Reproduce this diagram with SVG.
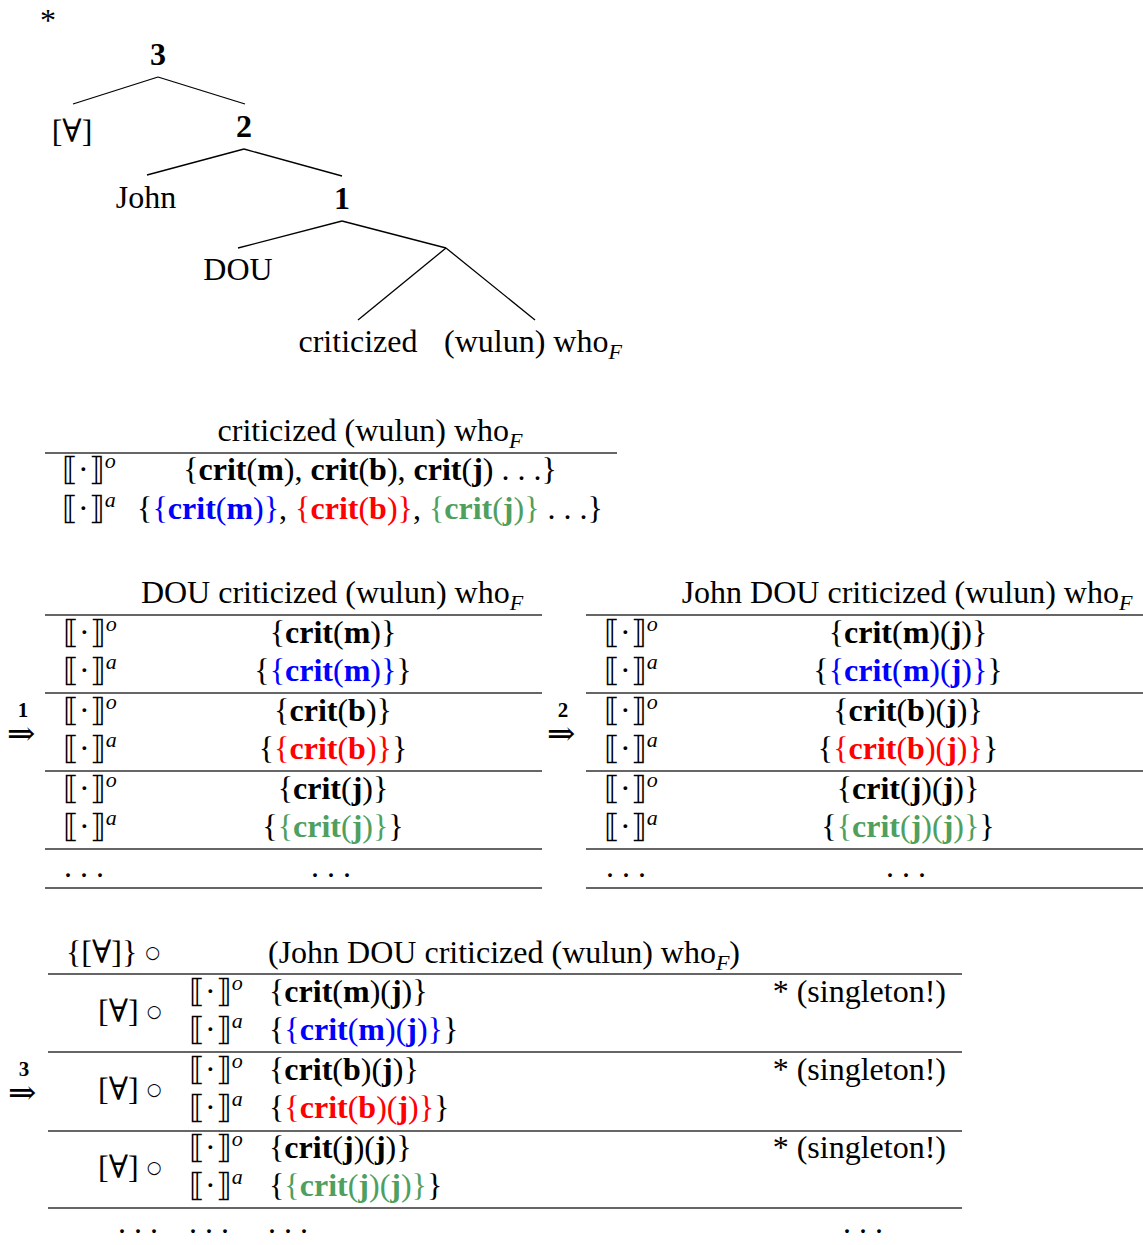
<svg xmlns="http://www.w3.org/2000/svg" width="1143" height="1245" viewBox="0 0 1143 1245">
<style>
text{font-family:"Liberation Serif","DejaVu Serif",serif;font-size:32px;fill:#000}
.b{font-weight:bold}
.sup{font-style:italic;font-size:22px}
.sub{font-style:italic;font-size:22px}
.B{fill:#0000ff}
.R{fill:#ff0000}
.G{fill:#4f9f5f}
.m{text-anchor:middle}
.e{text-anchor:end}
.ar{font-size:34px}
.al{font-weight:bold;font-size:21px;text-anchor:middle}
.ring{font-family:"DejaVu Sans",sans-serif;font-size:17px}
line{stroke:#000;stroke-width:1.3}
.rule{stroke:#333;stroke-width:1.5}
</style>

<!-- Tree -->
<g id="star"><text x="40" y="31" font-size="26">*</text></g>
<g id="connectors">
<line x1="158" y1="77" x2="73" y2="104"/>
<line x1="158" y1="77" x2="245" y2="104"/>
<line x1="244" y1="149" x2="147" y2="175"/>
<line x1="244" y1="149" x2="342" y2="176"/>
<line x1="342" y1="221" x2="238" y2="248"/>
<line x1="342" y1="221" x2="446" y2="248"/>
<line x1="446" y1="248" x2="358" y2="320"/>
<line x1="446" y1="248" x2="535" y2="320"/>
</g>
<g id="n3"><text class="m b" x="158" y="65">3</text></g>
<g id="nForall"><text class="m" x="72" y="142">[∀]</text></g>
<g id="n2"><text class="m b" x="244" y="137">2</text></g>
<g id="nJohn"><text class="m" x="146" y="208">John</text></g>
<g id="n1"><text class="m b" x="342" y="209">1</text></g>
<g id="nDOU"><text class="m" x="238" y="280">DOU</text></g>
<g id="nCrit"><text class="m" x="358" y="352">criticized</text></g>
<g id="nWho"><text x="444" y="352">(wulun) who<tspan class="sub" dy="7">F</tspan></text></g>

<!-- Table 1 -->
<g id="table1">
<text class="m" x="370" y="441">criticized (wulun) who<tspan class="sub" dy="7">F</tspan></text>
<line class="rule" x1="45" y1="453" x2="617" y2="453"/>
<text x="62" y="480">⟦·⟧<tspan class="sup" dy="-12">o</tspan></text>
<text class="m" x="370" y="480">{<tspan class="b">crit</tspan>(<tspan class="b">m</tspan>), <tspan class="b">crit</tspan>(<tspan class="b">b</tspan>), <tspan class="b">crit</tspan>(<tspan class="b">j</tspan>) . . .}</text>
<text x="62" y="519">⟦·⟧<tspan class="sup" dy="-12">a</tspan></text>
<text class="m" x="370" y="519">{<tspan class="B">{<tspan class="b">crit</tspan>(<tspan class="b">m</tspan>)}</tspan>, <tspan class="R">{<tspan class="b">crit</tspan>(<tspan class="b">b</tspan>)}</tspan>, <tspan class="G">{<tspan class="b">crit</tspan>(<tspan class="b">j</tspan>)}</tspan> . . .}</text>
</g>

<!-- Arrow 1 -->
<g id="arrow1">
<text class="al" x="23" y="717">1</text>
<text class="ar" x="7" y="745">⇒</text>
</g>

<!-- Table 2 -->
<g id="table2">
<text class="m" x="332" y="603">DOU criticized (wulun) who<tspan class="sub" dy="7">F</tspan></text>
<line class="rule" x1="45" y1="615" x2="542" y2="615"/>
<line class="rule" x1="45" y1="693" x2="542" y2="693"/>
<line class="rule" x1="45" y1="771" x2="542" y2="771"/>
<line class="rule" x1="45" y1="849" x2="542" y2="849"/>
<line class="rule" x1="45" y1="888" x2="542" y2="888"/>
<text x="63" y="643">⟦·⟧<tspan class="sup" dy="-12">o</tspan></text>
<text x="63" y="681">⟦·⟧<tspan class="sup" dy="-12">a</tspan></text>
<text x="63" y="721">⟦·⟧<tspan class="sup" dy="-12">o</tspan></text>
<text x="63" y="759">⟦·⟧<tspan class="sup" dy="-12">a</tspan></text>
<text x="63" y="799">⟦·⟧<tspan class="sup" dy="-12">o</tspan></text>
<text x="63" y="837">⟦·⟧<tspan class="sup" dy="-12">a</tspan></text>
<text class="m" x="333" y="643">{<tspan class="b">crit</tspan>(<tspan class="b">m</tspan>)}</text>
<text class="m" x="333" y="681">{<tspan class="B">{<tspan class="b">crit</tspan>(<tspan class="b">m</tspan>)}</tspan>}</text>
<text class="m" x="333" y="721">{<tspan class="b">crit</tspan>(<tspan class="b">b</tspan>)}</text>
<text class="m" x="333" y="759">{<tspan class="R">{<tspan class="b">crit</tspan>(<tspan class="b">b</tspan>)}</tspan>}</text>
<text class="m" x="333" y="799">{<tspan class="b">crit</tspan>(<tspan class="b">j</tspan>)}</text>
<text class="m" x="333" y="837">{<tspan class="G">{<tspan class="b">crit</tspan>(<tspan class="b">j</tspan>)}</tspan>}</text>
<text x="64" y="877">. . .</text>
<text class="m" x="331" y="877">. . .</text>
</g>

<!-- Arrow 2 -->
<g id="arrow2">
<text class="al" x="563" y="717">2</text>
<text class="ar" x="547" y="745">⇒</text>
</g>

<!-- Table 3 -->
<g id="table3">
<text class="m" x="907" y="603">John DOU criticized (wulun) who<tspan class="sub" dy="7">F</tspan></text>
<line class="rule" x1="586" y1="615" x2="1143" y2="615"/>
<line class="rule" x1="586" y1="693" x2="1143" y2="693"/>
<line class="rule" x1="586" y1="771" x2="1143" y2="771"/>
<line class="rule" x1="586" y1="849" x2="1143" y2="849"/>
<line class="rule" x1="586" y1="888" x2="1143" y2="888"/>
<text x="604" y="643">⟦·⟧<tspan class="sup" dy="-12">o</tspan></text>
<text x="604" y="681">⟦·⟧<tspan class="sup" dy="-12">a</tspan></text>
<text x="604" y="721">⟦·⟧<tspan class="sup" dy="-12">o</tspan></text>
<text x="604" y="759">⟦·⟧<tspan class="sup" dy="-12">a</tspan></text>
<text x="604" y="799">⟦·⟧<tspan class="sup" dy="-12">o</tspan></text>
<text x="604" y="837">⟦·⟧<tspan class="sup" dy="-12">a</tspan></text>
<text class="m" x="908" y="643">{<tspan class="b">crit</tspan>(<tspan class="b">m</tspan>)(<tspan class="b">j</tspan>)}</text>
<text class="m" x="908" y="681">{<tspan class="B">{<tspan class="b">crit</tspan>(<tspan class="b">m</tspan>)(<tspan class="b">j</tspan>)}</tspan>}</text>
<text class="m" x="908" y="721">{<tspan class="b">crit</tspan>(<tspan class="b">b</tspan>)(<tspan class="b">j</tspan>)}</text>
<text class="m" x="908" y="759">{<tspan class="R">{<tspan class="b">crit</tspan>(<tspan class="b">b</tspan>)(<tspan class="b">j</tspan>)}</tspan>}</text>
<text class="m" x="908" y="799">{<tspan class="b">crit</tspan>(<tspan class="b">j</tspan>)(<tspan class="b">j</tspan>)}</text>
<text class="m" x="908" y="837">{<tspan class="G">{<tspan class="b">crit</tspan>(<tspan class="b">j</tspan>)(<tspan class="b">j</tspan>)}</tspan>}</text>
<text x="606" y="877">. . .</text>
<text class="m" x="906" y="877">. . .</text>
</g>

<!-- Arrow 3 -->
<g id="arrow3">
<text class="al" x="24" y="1076">3</text>
<text class="ar" x="8" y="1104">⇒</text>
</g>

<!-- Table 4 -->
<g id="table4">
<text x="66" y="963">{[∀]} <tspan class="ring" dy="-5">○</tspan></text>
<text x="268" y="963">(John DOU criticized (wulun) who<tspan class="sub" dy="7">F</tspan><tspan dy="-7">)</tspan></text>
<line class="rule" x1="48" y1="974" x2="962" y2="974"/>
<line class="rule" x1="48" y1="1052" x2="962" y2="1052"/>
<line class="rule" x1="48" y1="1131" x2="962" y2="1131"/>
<line class="rule" x1="48" y1="1208" x2="962" y2="1208"/>
<text x="98" y="1022">[∀] <tspan class="ring" dy="-5">○</tspan></text>
<text x="98" y="1100">[∀] <tspan class="ring" dy="-5">○</tspan></text>
<text x="98" y="1178">[∀] <tspan class="ring" dy="-5">○</tspan></text>
<text x="189" y="1002">⟦·⟧<tspan class="sup" dy="-12">o</tspan></text>
<text x="189" y="1040">⟦·⟧<tspan class="sup" dy="-12">a</tspan></text>
<text x="189" y="1080">⟦·⟧<tspan class="sup" dy="-12">o</tspan></text>
<text x="189" y="1118">⟦·⟧<tspan class="sup" dy="-12">a</tspan></text>
<text x="189" y="1158">⟦·⟧<tspan class="sup" dy="-12">o</tspan></text>
<text x="189" y="1196">⟦·⟧<tspan class="sup" dy="-12">a</tspan></text>
<text x="269" y="1002">{<tspan class="b">crit</tspan>(<tspan class="b">m</tspan>)(<tspan class="b">j</tspan>)}</text>
<text x="269" y="1040">{<tspan class="B">{<tspan class="b">crit</tspan>(<tspan class="b">m</tspan>)(<tspan class="b">j</tspan>)}</tspan>}</text>
<text x="269" y="1080">{<tspan class="b">crit</tspan>(<tspan class="b">b</tspan>)(<tspan class="b">j</tspan>)}</text>
<text x="269" y="1118">{<tspan class="R">{<tspan class="b">crit</tspan>(<tspan class="b">b</tspan>)(<tspan class="b">j</tspan>)}</tspan>}</text>
<text x="269" y="1158">{<tspan class="b">crit</tspan>(<tspan class="b">j</tspan>)(<tspan class="b">j</tspan>)}</text>
<text x="269" y="1196">{<tspan class="G">{<tspan class="b">crit</tspan>(<tspan class="b">j</tspan>)(<tspan class="b">j</tspan>)}</tspan>}</text>
<text class="e" x="946" y="1002">* (singleton!)</text>
<text class="e" x="946" y="1080">* (singleton!)</text>
<text class="e" x="946" y="1158">* (singleton!)</text>
<text x="118" y="1233">. . .</text>
<text x="189" y="1233">. . .</text>
<text x="268" y="1233">. . .</text>
<text x="843" y="1233">. . .</text>
</g>
</svg>
